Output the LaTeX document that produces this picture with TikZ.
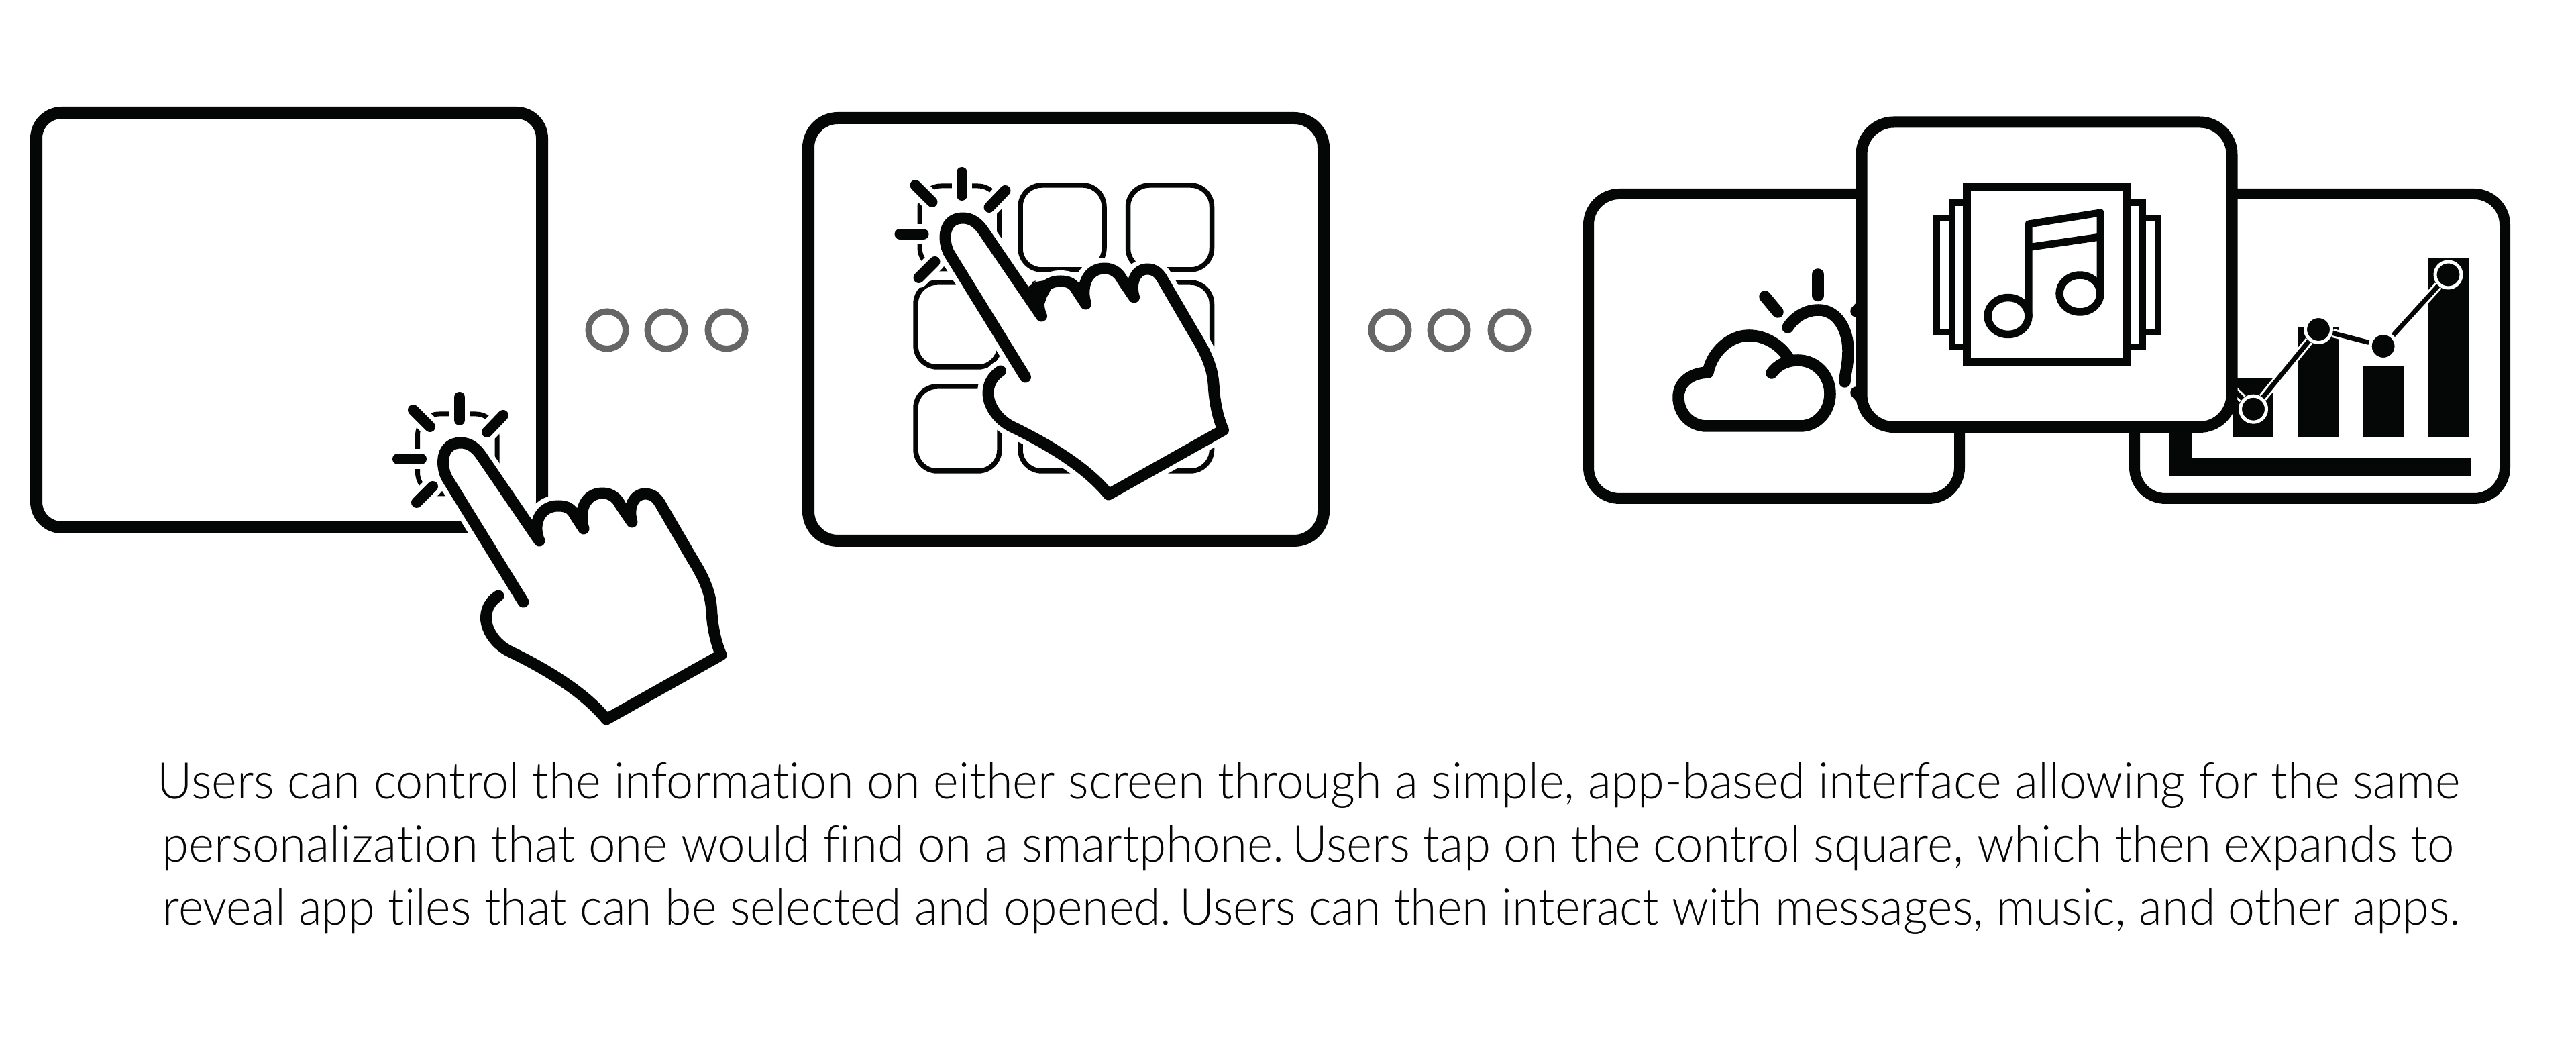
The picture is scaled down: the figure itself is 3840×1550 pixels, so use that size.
\documentclass[tikz,border=0pt]{standalone}
\usepackage{fontspec}
\setmainfont{Lato}[UprightFont=* Light, Ligatures=NoCommon]
\definecolor{ink}{HTML}{050606}
\definecolor{stopgray}{HTML}{666666}

\begin{document}
\begin{tikzpicture}[
  x=0.1mm, y=-0.1mm,
  screen/.style n args={4}{
    draw=ink, fill=white, line width=#3*0.1mm, rounded corners=#4*0.1mm,
    minimum width=#1*0.1mm, minimum height=#2*0.1mm, inner sep=0pt, outer sep=0pt,
  },
  stopdot/.style={circle, draw=stopgray, line width=0.95mm, minimum size=5.55mm, inner sep=0pt},
  apptile/.style={draw=ink, line width=0.75mm, rounded corners=3.2mm,
    minimum width=12.5mm, minimum height=12.6mm, inner sep=0pt},
  tapring/.style={draw=ink, line width=0.7mm, rounded corners=3.2mm},
  ray/.style={draw=ink, line width=1.6mm, line cap=round},
  rayhalo/.style={draw=white, line width=3mm, line cap=round},
  handline/.style={draw=ink, line width=1.7mm, line cap=round, line join=round},
  handhalo/.style={draw=white, line width=3.2mm, line cap=round, line join=round},
  weather/.style={draw=ink, line width=1.75mm, line cap=round, line join=round},
  chartdot/.style={circle, fill=ink, draw=white, line width=0.5mm,
    minimum size=3.9mm, inner sep=0pt},
  trendcase/.style={draw=white, line width=1.3mm},
  trend/.style={draw=ink, line width=0.7mm},
  caption/.style={anchor=base west, inner sep=0pt, text=ink, font=\fontsize{21.5pt}{26pt}\selectfont\frenchspacing},
]
  \useasboundingbox (0,0) rectangle (3840,1550);

  \def\handpath{(230,357) -- (116,172) .. controls (106,152) and (108,120) .. (137,120)
    .. controls (150,120) and (160,128) .. (168,140) -- (254,266)
    .. controls (244,245) and (252,214) .. (282,214) .. controls (295,214) and (302,218) .. (307,228) -- (320,248)
    .. controls (312,222) and (322,195) .. (348,195) .. controls (362,195) and (370,203) .. (375,213) -- (392,238)
    .. controls (385,215) and (396,196) .. (411,196) .. controls (424,196) and (430,203) .. (436,214) -- (482,293)
    .. controls (505,330) and (510,350) .. (511,375) .. controls (513,400) and (518,420) .. (525,436)
    -- (354,532) .. controls (320,490) and (260,455) .. (208,430) .. controls (175,412) and (160,370) .. (193,348)}

  % --- first two screens ---
  \node[screen={754}{618}{18}{38}] (screenA) at (431,477) {};
  \node[screen={768}{630}{18}{44}] (screenB) at (1589,491) {};

  % --- app tiles, first one comes with the tap ring ---
  \foreach \r/\c/\x/\y in {1/2/1583.5/339, 1/3/1744/339, 2/1/1427.5/484, 2/2/1583.5/484,
      2/3/1744/484, 3/1/1427.5/639, 3/2/1583.5/639, 3/3/1744/639}{
    \node[apptile] (tile\r\c) at (\x,\y) {};
  }

  % --- tapping hands ---
  \foreach \hx/\hy/\ringtop in {550/540/77, 1298.5/205/72}{
    \begin{scope}[shift={(\hx,\hy)}]
      \draw[tapring] (72.5,\ringtop) rectangle (191,196);
      \foreach \ax/\ay/\bx/\by in {135/52/135/86, 43/144/78/144, 66/71/91/96, 200/79/176/104, 71/209/95/185}{
        \draw[rayhalo] (\ax,\ay) -- (\bx,\by);
      }
      \foreach \ax/\ay/\bx/\by in {135/52/135/86, 43/144/78/144, 66/71/91/96, 200/79/176/104, 71/209/95/185}{
        \draw[ray] (\ax,\ay) -- (\bx,\by);
      }
      \draw[handhalo] \handpath;
      \fill[white] \handpath -- cycle;
      \draw[handline] \handpath;
    \end{scope}
  }
  \fill[ink] (1533,427) -- (1545,420) -- (1575,415) -- (1560,444) -- (1553,465) -- cycle;

  % --- stops between the screens ---
  \foreach \i/\x in {1/905, 2/993, 3/1083, 4/2072, 5/2160, 6/2250}{
    \node[stopdot] (stop\i) at (\x,492) {};
  }

  % --- chart screen ---
  \node[screen={552}{454}{16}{46}] (screenChart) at (3458,516) {};
  \fill[ink] (3233,600) rectangle (3267.6,709);
  \fill[ink] (3233,682) rectangle (3683,709);
  \foreach \xa/\xb/\top in {3328/3389/564.5, 3425/3486/487, 3522.5/3584/545, 3619/3681/384}{
    \fill[ink] (\xa,\top) rectangle (\xb,652.5);
  }
  \coordinate (pt0) at (3320,572);
  \foreach \i/\x/\y in {1/3359/609.7, 2/3456/491, 3/3552.6/516, 4/3649.5/409.5}{
    \node[chartdot] (pt\i) at (\x,\y) {};
  }
  \foreach \i/\j in {0/1, 1/2, 2/3, 3/4}{
    \draw[trendcase] (pt\i) -- (pt\j);
    \draw[trend] (pt\i) -- (pt\j);
  }

  % --- weather screen ---
  \node[screen={553}{454}{16}{46}] (screenWeather) at (2644.5,516) {};
  \draw[weather] (2710,409) -- (2710,440.5);
  \draw[weather] (2631,442) -- (2650,465);
  \draw[weather] (2767,464) -- (2790,440);
  \draw[weather] (2767,585) -- (2790,610);
  \draw[weather] (2665,488) .. controls (2675,472) and (2692,462) .. (2711,462)
    .. controls (2738,462) and (2755,490) .. (2755,523) .. controls (2755,545) and (2750,558) .. (2750,569);
  \draw[weather, fill=white] (2641,556) .. controls (2650,543) and (2665,537) .. (2680,537)
    .. controls (2708,537) and (2728,560) .. (2728,587) .. controls (2728,614) and (2708,635) .. (2684,635)
    -- (2544,635) .. controls (2520,635) and (2502,616) .. (2502,592)
    .. controls (2502,570) and (2520,556) .. (2546,555) .. controls (2552,525) and (2578,500) .. (2607,500)
    .. controls (2632,500) and (2655,515) .. (2667,535);

  % --- music screen on top ---
  \node[screen={552}{454.5}{17}{48}] (screenMusic) at (3051,409.25) {};
  \draw[ink, line width=1.05mm] (2887,325) rectangle (3217,495);
  \draw[ink, fill=white, line width=1.05mm] (2910,301.6) rectangle (3194,517);
  \draw[ink, fill=white, line width=1.2mm] (2932,279.4) rectangle (3171,539.6);
  \draw[ink, line width=1.1mm, line join=round] (3024,470) -- (3024,334) -- (3131,317) -- (3131,439);
  \draw[ink, line width=1.1mm] (3024,368.6) -- (3131,353);
  \draw[ink, line width=1.15mm] (2993.5,471) ellipse [x radius=30.5, y radius=27.5];
  \draw[ink, line width=1.15mm] (3100.5,437.5) ellipse [x radius=30.5, y radius=27.5];

  % --- caption lines ---
  \node[caption] (lineA) at (234,1191) {\resizebox{343.2mm}{\height}{Users can control the information on either screen through a simple, app-based interface allowing for the same}};
  \node[caption] (lineB) at (241,1285) {\resizebox{341.6mm}{\height}{personalization that one would find on a smartphone.\hspace{0.16em}Users tap on the control square, which then expands to}};
  \node[caption] (lineC) at (242,1379) {\resizebox{342.4mm}{\height}{reveal app tiles that can be selected and opened.\hspace{0.16em}Users can then interact with messages, music, and other apps.}};
\end{tikzpicture}
\end{document}
